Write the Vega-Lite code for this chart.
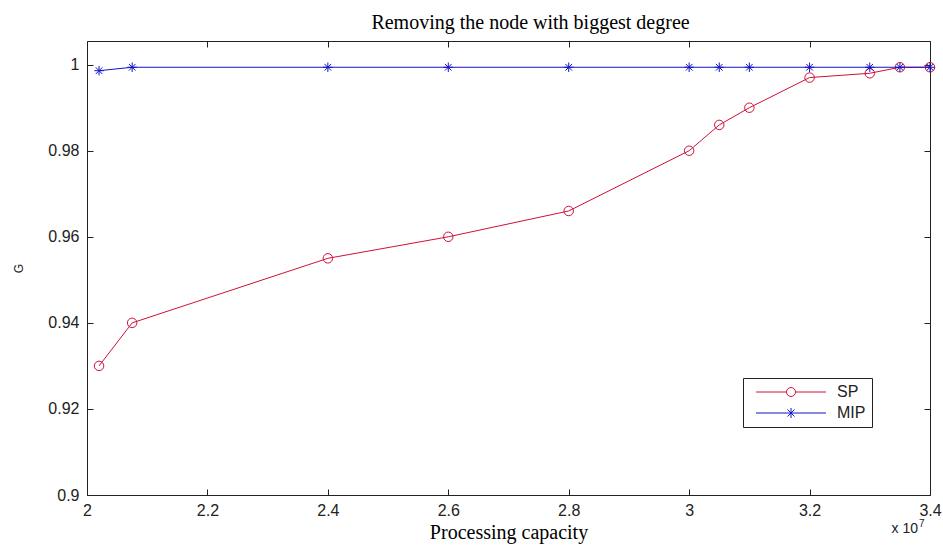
{
  "$schema": "https://vega.github.io/schema/vega-lite/v6.json",
  "width": 843,
  "height": 454,
  "autosize": "none",
  "padding": {"left": 87, "top": 41, "right": 13, "bottom": 50},
  "background": "white",
  "title": {"text": "Removing the node with biggest degree", "font": "Liberation Serif", "fontSize": 20, "fontWeight": "normal", "color": "black", "offset": 8, "dx": 22},
  "config": {"view": {"stroke": null}, "axis": {"grid": false, "domainColor": "#222", "tickColor": "#222", "labelFont": "Liberation Sans", "labelFontSize": 16, "labelColor": "#222"}},
  "datasets": {
    "main": [
      {"capacity": 20200000, "G": 0.930, "series": "SP"},
      {"capacity": 20750000, "G": 0.940, "series": "SP"},
      {"capacity": 24000000, "G": 0.955, "series": "SP"},
      {"capacity": 26000000, "G": 0.960, "series": "SP"},
      {"capacity": 28000000, "G": 0.966, "series": "SP"},
      {"capacity": 30000000, "G": 0.980, "series": "SP"},
      {"capacity": 30500000, "G": 0.986, "series": "SP"},
      {"capacity": 31000000, "G": 0.990, "series": "SP"},
      {"capacity": 32000000, "G": 0.997, "series": "SP"},
      {"capacity": 33000000, "G": 0.998, "series": "SP"},
      {"capacity": 33500000, "G": 0.9994, "series": "SP"},
      {"capacity": 34000000, "G": 0.9994, "series": "SP"},
      {"capacity": 20200000, "G": 0.9986, "series": "MIP"},
      {"capacity": 20750000, "G": 0.9994, "series": "MIP"},
      {"capacity": 24000000, "G": 0.9994, "series": "MIP"},
      {"capacity": 26000000, "G": 0.9994, "series": "MIP"},
      {"capacity": 28000000, "G": 0.9994, "series": "MIP"},
      {"capacity": 30000000, "G": 0.9994, "series": "MIP"},
      {"capacity": 30500000, "G": 0.9994, "series": "MIP"},
      {"capacity": 31000000, "G": 0.9994, "series": "MIP"},
      {"capacity": 32000000, "G": 0.9994, "series": "MIP"},
      {"capacity": 33000000, "G": 0.9994, "series": "MIP"},
      {"capacity": 33500000, "G": 0.9994, "series": "MIP"},
      {"capacity": 34000000, "G": 0.9994, "series": "MIP"}
    ],
    "note": [{"capacity": 34000000, "G": 0.9, "label": "x 10", "exp": "7"}]
  },
  "resolve": {"scale": {"x": "independent", "y": "independent"}},
  "layer": [
    {
      "layer": [
        {
          "data": {"name": "main"},
          "mark": {"type": "line", "strokeWidth": 1},
          "encoding": {
            "x": {"field": "capacity", "type": "quantitative", "scale": {"domain": [20000000, 34000000], "nice": false, "zero": false},
              "axis": {"orient": "bottom", "values": [20000000, 22000000, 24000000, 26000000, 28000000, 30000000, 32000000, 34000000], "labelExpr": "format(datum.value/1e7, '~g')", "tickSize": -6, "labelPadding": 13, "labelFlush": false, "title": "Processing capacity", "titleFont": "Liberation Serif", "titleFontSize": 20, "titleFontWeight": "normal", "titleColor": "black", "titlePadding": 4}},
            "y": {"field": "G", "type": "quantitative", "scale": {"domain": [0.9, 1.0055], "nice": false, "zero": false},
              "axis": {"orient": "left", "values": [0.9, 0.92, 0.94, 0.96, 0.98, 1.0], "labelExpr": "format(datum.value, '~g')", "tickSize": -6, "labelPadding": 14, "title": "G", "titleFont": "Liberation Sans", "titleFontSize": 12, "titleFontWeight": "normal", "titleColor": "#222", "titlePadding": 22}},
            "color": {"field": "series", "type": "nominal", "scale": {"domain": ["SP", "MIP"], "range": ["#d0103a", "#1212c8"]},
              "legend": {"title": null, "orient": "none", "legendX": 656, "legendY": 337, "strokeColor": "#222", "fillColor": "white", "padding": 6, "symbolSize": 100, "symbolStrokeWidth": 1, "symbolFillColor": "transparent", "symbolOffset": 34, "labelOffset": 38, "labelFont": "Liberation Sans", "labelFontSize": 16, "labelColor": "#222", "rowPadding": 5,
                "encode": {"symbols": {"update": {"shape": {"signal": "datum.value === 'SP' ? 'M-7,0H-0.9M0.9,0H7M0.9,0A0.9,0.9 0 1,1 -0.9,0A0.9,0.9 0 1,1 0.9,0' : 'M-7,0H7M0,-1V1M-0.7,-0.7L0.7,0.7M-0.7,0.7L0.7,-0.7'"}, "fill": {"value": "transparent"}}}}}}
          }
        },
        {
          "data": {"name": "main"},
          "transform": [{"filter": "datum.series === 'SP'"}],
          "mark": {"type": "point", "shape": "circle", "filled": false, "size": 90, "strokeWidth": 1, "opacity": 1, "color": "#d0103a"},
          "encoding": {
            "x": {"field": "capacity", "type": "quantitative"},
            "y": {"field": "G", "type": "quantitative"}
          }
        },
        {
          "data": {"name": "main"},
          "transform": [{"filter": "datum.series === 'MIP'"}],
          "mark": {"type": "point", "shape": "M-1,0H1M0,-1V1M-0.7,-0.7L0.7,0.7M-0.7,0.7L0.7,-0.7", "filled": false, "size": 90, "strokeWidth": 1, "opacity": 1, "color": "#1212c8"},
          "encoding": {
            "x": {"field": "capacity", "type": "quantitative"},
            "y": {"field": "G", "type": "quantitative"}
          }
        },
        {
          "data": {"name": "note"},
          "mark": {"type": "text", "align": "right", "baseline": "alphabetic", "dx": -12, "dy": 38, "font": "Liberation Sans", "fontSize": 14, "color": "#222", "clip": false},
          "encoding": {
            "x": {"field": "capacity", "type": "quantitative"},
            "y": {"field": "G", "type": "quantitative"},
            "text": {"field": "label"}
          }
        },
        {
          "data": {"name": "note"},
          "mark": {"type": "text", "align": "left", "baseline": "alphabetic", "dx": -11, "dy": 32, "font": "Liberation Sans", "fontSize": 10, "color": "#222", "clip": false},
          "encoding": {
            "x": {"field": "capacity", "type": "quantitative"},
            "y": {"field": "G", "type": "quantitative"},
            "text": {"field": "exp"}
          }
        }
      ]
    },
    {
      "data": {"name": "note"},
      "mark": {"type": "point", "opacity": 0},
      "encoding": {
        "x": {"field": "capacity", "type": "quantitative", "scale": {"domain": [20000000, 34000000], "nice": false, "zero": false},
          "axis": {"orient": "top", "values": [20000000, 22000000, 24000000, 26000000, 28000000, 30000000, 32000000, 34000000], "labels": false, "tickSize": -6, "title": null}},
        "y": {"field": "G", "type": "quantitative", "scale": {"domain": [0.9, 1.0055], "nice": false, "zero": false},
          "axis": {"orient": "right", "values": [0.9, 0.92, 0.94, 0.96, 0.98, 1.0], "labels": false, "tickSize": -6, "title": null}}
      }
    }
  ]
}
